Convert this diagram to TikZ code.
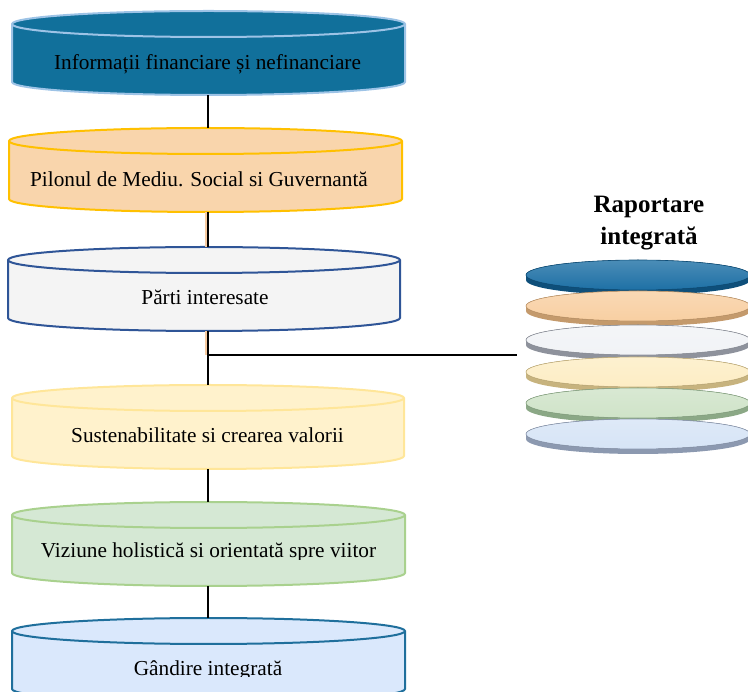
\documentclass[tikz,border=0pt]{standalone}
\usepackage{fontspec}
\setmainfont{Liberation Serif}
\definecolor{c1f}{HTML}{11709B}\definecolor{c1d}{HTML}{9DC3E6}
\definecolor{c2f}{HTML}{F9D5AC}\definecolor{c2d}{HTML}{FFC000}
\definecolor{c3f}{HTML}{F4F4F4}\definecolor{c3d}{HTML}{2F5597}
\definecolor{c4f}{HTML}{FFF2CC}\definecolor{c4d}{HTML}{FFE699}
\definecolor{c5f}{HTML}{D5E8D4}\definecolor{c5d}{HTML}{A9D18E}
\definecolor{c6f}{HTML}{DAE8FC}\definecolor{c6d}{HTML}{1F6F9C}
\definecolor{d1f}{HTML}{1E70A5}\definecolor{d1e}{HTML}{0E4F7A}
\definecolor{d2f}{HTML}{F8CFA2}\definecolor{d2e}{HTML}{C49A6C}
\definecolor{d3f}{HTML}{F1F3F6}\definecolor{d3e}{HTML}{8E929C}
\definecolor{d4f}{HTML}{FDEDC4}\definecolor{d4e}{HTML}{C7B37E}
\definecolor{d5f}{HTML}{CFE3C8}\definecolor{d5e}{HTML}{8BA886}
\definecolor{d6f}{HTML}{D6E4F6}\definecolor{d6e}{HTML}{8C99B0}
\definecolor{peachline}{HTML}{F8CBA0}
\begin{document}
\begin{tikzpicture}[x=1pt,y=-1pt,
  cylline/.style={line width=2pt},
  conn/.style={line width=1.2pt, black},
  peachstrip/.style={line width=2pt, peachline},
  lbl/.style={font=\fontsize{21.3}{25}\selectfont, inner sep=0pt, anchor=base},
  ttl/.style={font=\fontsize{25}{32}\selectfont\bfseries, align=center, inner sep=0pt},
  box/.style={inner sep=0pt, draw=none}]
\useasboundingbox (0,0) rectangle (748,692);
\clip (0,0) rectangle (748,692);

% cylinders
\foreach \n/\cx/\rx/\yt/\fc/\dc in {1/208.5/196.5/24/c1f/c1d, 2/205.5/196.5/141/c2f/c2d, 3/204/196/260/c3f/c3d, 4/208/196/398/c4f/c4d, 5/208.5/196.5/515/c5f/c5d, 6/208.5/196.5/631/c6f/c6d}{
  \path[fill=\fc, draw=\dc, cylline] (\cx-\rx,\yt) -- (\cx-\rx,\yt+58)
     arc[start angle=180,end angle=360,x radius=\rx pt,y radius=13pt] -- (\cx+\rx,\yt)
     arc[start angle=0,end angle=180,x radius=\rx pt,y radius=13pt] -- cycle;
  \draw[draw=\dc, cylline] (\cx-\rx,\yt) arc[start angle=180,end angle=360,x radius=\rx pt,y radius=13pt];
  \node[box, minimum width=2*\rx pt, minimum height=84pt] (c\n) at (\cx,\yt+29) {};
}

% texts
\node[lbl] (t1) at (207.5,70) {Informații financiare și nefinanciare};
\node[lbl] (t2) at (199,187) {Pilonul de Mediu. Social si Guvernantă};
\node[lbl] (t3) at (205,305) {Părti interesate};
\node[lbl] (t4) at (207.5,443) {Sustenabilitate si crearea valorii};
\begin{scope}
  \clip (0,0) rectangle (748,560);
  \node[lbl] (t5) at (208.5,558) {Viziune holistică si orientată spre viitor};
\end{scope}
\begin{scope}
  \clip (0,0) rectangle (748,677);
  \node[lbl] (t6) at (208,676) {Gândire integrată};
\end{scope}

% disc stack
\node[box, minimum width=231pt, minimum height=194pt] (stack) at (632.5,355) {};
\foreach \yc/\fc/\ec in {275/d1f/d1e, 306/d2f/d2e, 340/d3f/d3e, 372/d4f/d4e, 403/d5f/d5e, 434/d6f/d6e}{
  \fill[\ec] (526,\yc) rectangle (750,\yc+5);
  \fill[\ec] (638,\yc+5) ellipse[x radius=112pt, y radius=15pt];
  \fill[top color=\fc!80!white, bottom color=\fc] (638,\yc) ellipse[x radius=112pt, y radius=15pt];
  \draw[\ec, line width=0.6pt] (638,\yc) ellipse[x radius=112pt, y radius=15pt];
}
\node[ttl] (title) at (649,223) {Raportare\\integrată};

% connectors
\coordinate (spine) at (208,0);
\draw[peachstrip] ([xshift=-2pt]spine |- c2.south) -- ([xshift=-2pt]spine |- c3.north);
\draw[peachstrip] ([xshift=-2pt]spine |- c3.south) -- ([xshift=-2pt]spine |- stack.west);
\draw[conn] (spine |- c1.south) -- (spine |- c2.north);
\draw[conn] (spine |- c2.south) -- (spine |- c3.north);
\draw[conn] (spine |- c3.south) -- (spine |- c4.north);
\draw[conn] (spine |- c4.south) -- (spine |- c5.north);
\draw[conn] (spine |- c5.south) -- (spine |- c6.north);
\draw[conn] (spine |- stack.west) -- (stack.west);
\end{tikzpicture}
\end{document}
